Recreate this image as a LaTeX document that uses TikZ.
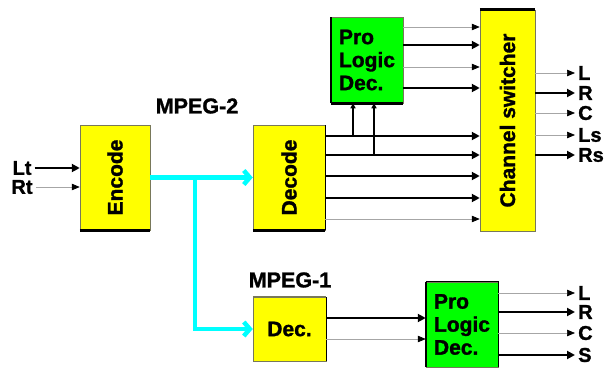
\documentclass[tikz,border=0pt]{standalone}
\usepackage{fontspec}
\setmainfont{Liberation Sans}[BoldFeatures={FakeBold=1.3}]
\usetikzlibrary{arrows.meta}
\definecolor{boxyellow}{RGB}{255,255,0}
\definecolor{boxgreen}{RGB}{0,255,0}
\definecolor{streamcyan}{RGB}{0,255,255}
\definecolor{rimgray}{RGB}{120,120,90}

\begin{document}
\begin{tikzpicture}[
  x=1pt,y=-1pt,
  ybox/.style={rectangle,draw=rimgray,line width=0.5pt,fill=boxyellow,inner sep=0pt,
               font=\fontsize{21}{23}\selectfont\bfseries,align=center},
  gbox/.style={ybox,fill=boxgreen,align=left},
  port/.style={font=\fontsize{20}{20}\selectfont\bfseries,inner sep=3pt},
  streamlabel/.style={font=\fontsize{21.5}{21.5}\selectfont\bfseries},
  heavy/.style={-{Triangle[length=8pt,width=8pt]},line width=2.2pt},
  light/.style={-{Triangle[length=8pt,width=6.5pt,color=black]},draw=black!35,line width=0.7pt},
  tap/.style={-{Triangle[length=5pt,width=5pt]},line width=2.2pt},
  stream/.style={-{Straight Barb[length=6pt,width=14pt]},streamcyan,line width=4.5pt},
  rim/.style={line width=2.5pt},
]
\useasboundingbox (0,0) rectangle (610,369);

% boxes
\node[ybox,minimum width=70pt,minimum height=105pt] (enc) at (115,177.5) {\rotatebox{90}{Encode}};
\node[ybox,minimum width=72pt,minimum height=105pt] (dcd) at (289,177.5) {\rotatebox{90}{Decode}};
\node[gbox,minimum width=72pt,minimum height=86pt]  (plt) at (367,60)    {Pro\\Logic\\Dec.};
\node[ybox,minimum width=55pt,minimum height=221pt] (chs) at (507.5,120.5) {\rotatebox{90}{Channel switcher}};
\node[ybox,minimum width=73pt,minimum height=64pt]  (dec) at (289.5,329) {Dec.};
\node[gbox,minimum width=72pt,minimum height=85pt]  (plb) at (462,324.5) {Pro\\Logic\\Dec.};

% shadow edges
\draw[rim] (enc.south west) -- (enc.south east);
\draw[rim] (dcd.south west) -- (dcd.south east);
\draw[line width=1pt] (dcd.south east) -- (dcd.north east);
\draw[rim] (plt.south west) -- (plt.south east);
\draw[line width=1.5pt] (plt.south west) -- (plt.north west);
\draw[line width=3pt] (chs.north west) -- (chs.north east);
\draw[line width=1.5pt,rimgray] (dec.north west) -- (dec.north east);
\draw[line width=1pt] (dec.south east) -- (dec.north east);
\draw[rim] (plb.south west) -- (plb.north west);
\draw[line width=1pt] (plb.north west) -- (plb.north east) -- (plb.south east);

\node[streamlabel] (mp2) at (197,106) {MPEG-2};
\node[streamlabel] (mp1) at (290,280) {MPEG-1};

% inputs
\node[port] (lt) at (22,168) {Lt};
\node[port] (rt) at (22,187) {Rt};
\draw[heavy] (lt) -- (enc.west|-lt);
\draw[light] (rt) -- (enc.west|-rt);

% cyan streams
\coordinate (fork) at (195,177.5);
\draw[stream] (enc.east) -- (dcd.west);
\draw[stream] (fork) |- (dec.west);

% rows into the channel switcher
\coordinate (p1) at (0,27);
\coordinate (p2) at (0,45);
\coordinate (p3) at (0,67);
\coordinate (p4) at (0,88);
\draw[light] (plt.east|-p1) -- (chs.west|-p1);
\draw[heavy] (plt.east|-p2) -- (chs.west|-p2);
\draw[light] (plt.east|-p3) -- (chs.west|-p3);
\draw[heavy] (plt.east|-p4) -- (chs.west|-p4);

\coordinate (d1) at (0,136);
\coordinate (d2) at (0,155);
\coordinate (d3) at (0,176);
\coordinate (d4) at (0,198);
\coordinate (d5) at (0,219);
\draw[heavy] (dcd.east|-d1) -- (chs.west|-d1);
\draw[heavy] (dcd.east|-d2) -- (chs.west|-d2);
\draw[heavy] (dcd.east|-d3) -- (chs.west|-d3);
\draw[heavy] (dcd.east|-d4) -- (chs.west|-d4);
\draw[light] (dcd.east|-d5) -- (chs.west|-d5);

% taps up to the pro logic decoder
\coordinate (t1) at (353,136);
\coordinate (t2) at (374,155);
\draw[tap] (t1) -- (t1|-plt.south);
\draw[tap] (t2) -- (t2|-plt.south);

% switcher outputs
\node[port,anchor=west] (oL)  at (575,73)  {L};
\node[port,anchor=west] (oR)  at (575,93)  {R};
\node[port,anchor=west] (oC)  at (575,113) {C};
\node[port,anchor=west] (oLs) at (575,135) {Ls};
\node[port,anchor=west] (oRs) at (575,155) {Rs};
\draw[light] (chs.east|-oL)  -- (oL);
\draw[heavy] (chs.east|-oR)  -- (oR);
\draw[light] (chs.east|-oC)  -- (oC);
\draw[light] (chs.east|-oLs) -- (oLs);
\draw[heavy] (chs.east|-oRs) -- (oRs);

% MPEG-1 path
\coordinate (m1) at (0,318);
\coordinate (m2) at (0,339);
\draw[heavy] (dec.east|-m1) -- (plb.west|-m1);
\draw[light] (dec.east|-m2) -- (plb.west|-m2);

\node[port,anchor=west] (bL) at (575,293) {L};
\node[port,anchor=west] (bR) at (575,312) {R};
\node[port,anchor=west] (bC) at (575,333) {C};
\node[port,anchor=west] (bS) at (575,355) {S};
\draw[light] (plb.east|-bL) -- (bL);
\draw[heavy] (plb.east|-bR) -- (bR);
\draw[light] (plb.east|-bC) -- (bC);
\draw[heavy] (plb.east|-bS) -- (bS);

\end{tikzpicture}
\end{document}
